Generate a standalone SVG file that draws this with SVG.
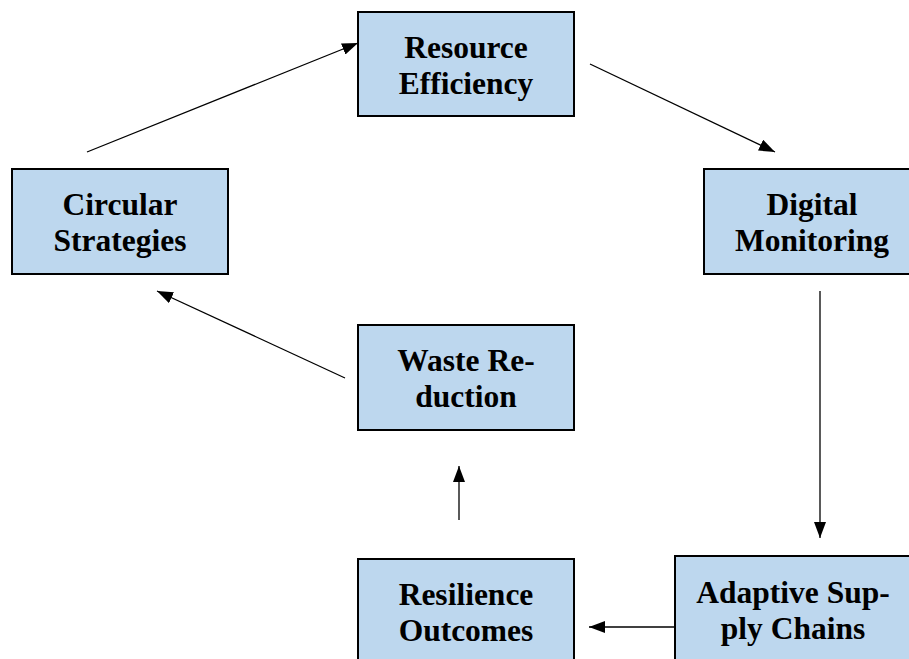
<svg xmlns="http://www.w3.org/2000/svg" width="909" height="659" viewBox="0 0 909 659">
  <defs>
    <marker id="arrow" markerWidth="16" markerHeight="12" refX="16" refY="6" orient="auto" markerUnits="userSpaceOnUse" viewBox="0 0 16 12">
      <path d="M0,0 L16,6 L0,12 z" fill="#000"/>
    </marker>
    <style>
      .box { fill: #BDD7EE; stroke: #000; stroke-width: 2; }
      .label { font-family: "Liberation Serif", "Times New Roman", serif; font-weight: bold; font-size: 31.5px; fill: #000; text-anchor: middle; }
      .edge { stroke: #000; stroke-width: 1.3; fill: none; marker-end: url(#arrow); }
    </style>
  </defs>
  <rect width="909" height="659" fill="#fff"/>

  <g id="connectors">
    <line class="edge" x1="87" y1="152" x2="358" y2="43"/>
    <line class="edge" x1="590" y1="64" x2="775" y2="152"/>
    <line class="edge" x1="820" y1="291" x2="820" y2="538"/>
    <line class="edge" x1="674" y1="627" x2="589" y2="627"/>
    <line class="edge" x1="459" y1="520" x2="459" y2="466"/>
    <line class="edge" x1="345" y1="378" x2="157" y2="291"/>
  </g>

  <g id="resource-efficiency">
    <rect class="box" x="358" y="12" width="216" height="104"/>
    <text class="label" x="466" y="58">Resource</text>
    <text class="label" x="466" y="94">Efficiency</text>
  </g>

  <g id="digital-monitoring">
    <rect class="box" x="704" y="169" width="216" height="105"/>
    <text class="label" x="812" y="215">Digital</text>
    <text class="label" x="812" y="251">Monitoring</text>
  </g>

  <g id="circular-strategies">
    <rect class="box" x="12" y="169" width="216" height="105"/>
    <text class="label" x="120" y="215">Circular</text>
    <text class="label" x="120" y="251">Strategies</text>
  </g>

  <g id="waste-reduction">
    <rect class="box" x="358" y="325" width="216" height="105"/>
    <text class="label" x="466" y="371">Waste Re-</text>
    <text class="label" x="466" y="407">duction</text>
  </g>

  <g id="resilience-outcomes">
    <rect class="box" x="358" y="559" width="216" height="110"/>
    <text class="label" x="466" y="605">Resilience</text>
    <text class="label" x="466" y="641">Outcomes</text>
  </g>

  <g id="adaptive-supply-chains">
    <rect class="box" x="675" y="556" width="236" height="113"/>
    <text class="label" x="793" y="603">Adaptive Sup-</text>
    <text class="label" x="793" y="639">ply Chains</text>
  </g>
</svg>
